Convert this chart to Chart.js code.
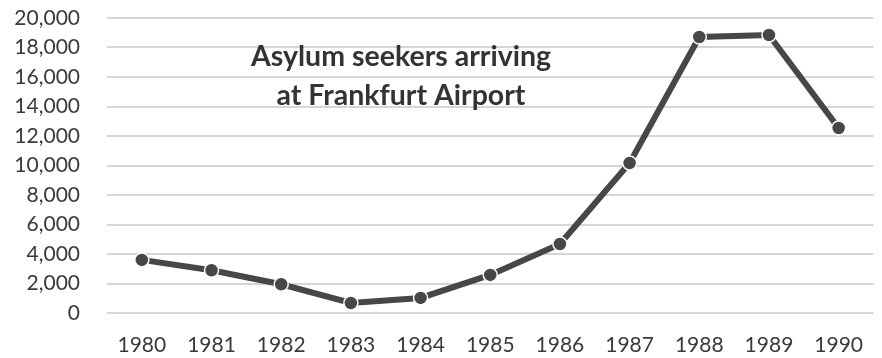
<!DOCTYPE html>
<html>
<head>
<meta charset="utf-8">
<script src="https://cdn.jsdelivr.net/npm/chart.js@4"></script>
<style>
  body { margin: 0; background: #fff; }
  #wrap { width: 882px; height: 358px; }
</style>
</head>
<body>
<div id="wrap"><canvas id="asylum"></canvas></div>
<script>
const years = ['1980', '1981', '1982', '1983', '1984', '1985', '1986', '1987', '1988', '1989', '1990'];
const seekers = [3600, 2900, 1950, 680, 1020, 2580, 4680, 10170, 18710, 18850, 12540];
const titleLines = ['Asylum seekers arriving', 'at Frankfurt Airport'];

const textColor = '#3a3a3a';

// title sits inside the plot, so draw it by hand
const insideTitle = {
  id: 'insideTitle',
  afterDraw(chart) {
    const ctx = chart.ctx;
    ctx.save();
    ctx.font = 'bold 28.5px Lato';
    ctx.fillStyle = '#333';
    ctx.textAlign = 'center';
    ctx.textBaseline = 'middle';
    titleLines.forEach((t, i) => ctx.fillText(t, 401, 57 + i * 39));
    ctx.restore();
  }
};

new Chart(document.getElementById('asylum').getContext('2d'), {
  type: 'line',
  data: {
    labels: years,
    datasets: [{
      data: seekers,
      borderColor: '#474747',
      borderWidth: 6,
      pointRadius: 7,
      pointBackgroundColor: '#474747',
      pointBorderColor: '#fff',
      pointBorderWidth: 1.5,
      tension: 0
    }]
  },
  options: {
    responsive: true,
    maintainAspectRatio: false,
    animation: false,
    layout: { padding: { top: 18, right: 4, left: 0, bottom: 0 } },
    plugins: { legend: { display: false }, tooltip: { enabled: false } },
    scales: {
      x: {
        offset: true,
        grid: { display: false },
        border: { display: false },
        ticks: { color: textColor, font: { family: 'Lato', size: 21 }, padding: 12, maxRotation: 0, autoSkip: false },
        afterFit: s => { s.height = 45; }
      },
      y: {
        min: 0,
        max: 20000,
        // ticks hidden; tickLength only pushes labels left of the plot
        grid: { color: '#d6d6d6', lineWidth: 2, tickLength: 27, tickColor: 'rgba(0,0,0,0)' },
        border: { display: false },
        ticks: {
          stepSize: 2000,
          autoSkip: false,
          color: textColor,
          font: { family: 'Lato', size: 21 },
          padding: 0,
          callback: v => v.toLocaleString('en-US')
        },
        afterFit: s => { s.width = 107; }
      }
    }
  },
  plugins: [insideTitle]
});
</script>
</body>
</html>
